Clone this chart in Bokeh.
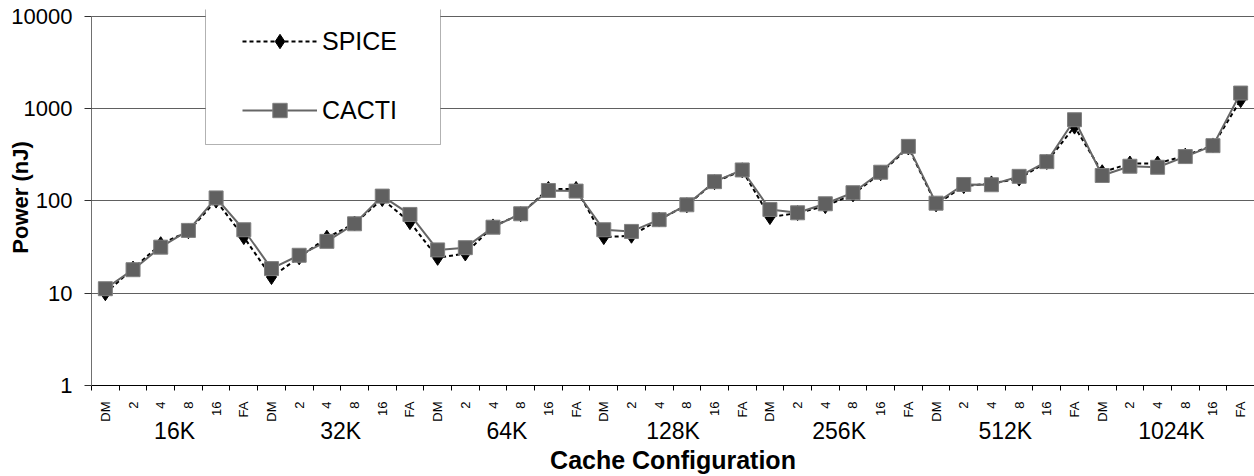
from bokeh.plotting import figure
from bokeh.models import (FixedTicker, LinearAxis, PrintfTickFormatter, Legend, LegendItem,
                          ColumnDataSource, Range1d, BoxAnnotation)
from bokeh.embed import file_html
from bokeh.resources import INLINE
import math

sizes = ["16K", "32K", "64K", "128K", "256K", "512K", "1024K"]
assoc = ["DM", "2", "4", "8", "16", "FA"]

cacti = [11.2, 18.0, 31.6, 48, 108, 48.8,
         18.5, 25.8, 36.5, 56.6, 113, 71.5,
         29.5, 31.2, 52, 72.7, 130, 128,
         48.8, 46.8, 62.7, 91, 162, 217,
         81, 74.5, 93.3, 123, 205, 391,
         94.7, 151, 150, 185, 267, 760,
         189, 238, 232, 303, 398, 1479]
spice = [10.0, 18.5, 34, 47, 101, 40.6,
         15.0, 24.5, 40, 57, 105, 59,
         24.2, 27, 53, 72, 135, 135,
         40.6, 42, 63, 90, 160, 215,
         67, 74, 88, 118, 200, 380,
         92, 145, 155, 175, 265, 640,
         205, 255, 255, 310, 400, 1240]
y_ticks = [1, 10, 100, 1000, 10000]

n = len(sizes) * len(assoc)
xs = [i + 0.5 for i in range(n)]
cat_labels = [a for s in sizes for a in assoc]
src = ColumnDataSource(dict(x=xs, spice=spice, cacti=cacti))

FONT = "Liberation Sans"

# frame: x 91..1254, y 9..386 ; decades of 92.5 px, so top of range a bit above 10000
y_top = 10 ** (377 / 92.5)
p = figure(width=1254, height=476, y_axis_type="log", output_backend="svg",
           toolbar_location=None, x_range=Range1d(0, n), y_range=Range1d(1, y_top),
           min_border_left=91, min_border_right=0, min_border_top=9, min_border_bottom=90,
           x_axis_type=None)
p.outline_line_color = None
p.background_fill_color = "white"

# grid
p.ygrid.ticker = FixedTicker(ticks=y_ticks)
p.ygrid.grid_line_color = "#606060"
p.ygrid.grid_line_width = 1
p.xgrid.visible = False

# y axis
ya = p.yaxis[0]
ya.ticker = FixedTicker(ticks=y_ticks)
ya.formatter = PrintfTickFormatter(format="%d")
ya.bounds = (1, 10000)
ya.major_label_text_font = FONT
ya.major_label_text_font_size = "22px"
ya.major_label_text_color = "black"
ya.axis_line_color = "#707070"
ya.major_tick_line_color = "#303030"
ya.major_tick_out = 7
ya.major_tick_in = 0
ya.minor_tick_line_color = None
ya.major_label_standoff = 12
ya.axis_label = "Power (nJ)"
ya.axis_label_text_font = FONT
ya.axis_label_text_font_size = "22px"
ya.axis_label_text_font_style = "bold"
ya.axis_label_text_color = "black"
ya.axis_label_standoff = -25

# category axis
xa = LinearAxis(ticker=FixedTicker(ticks=xs, minor_ticks=list(range(n + 1))),
                major_label_overrides={x: l for x, l in zip(xs, cat_labels)})
xa.major_label_orientation = math.pi / 2
xa.major_label_text_font = FONT
xa.major_label_text_font_size = "13px"
xa.major_label_text_color = "black"
xa.major_tick_out = 0
xa.major_tick_in = 0
xa.minor_tick_out = 5
xa.minor_tick_in = 0
xa.minor_tick_line_color = "black"
xa.axis_line_color = "black"
xa.major_label_standoff = 11
p.add_layout(xa, "below")

# group axis
gx = [len(assoc) * (k + 0.5) for k in range(len(sizes))]
ga = LinearAxis(ticker=FixedTicker(ticks=gx),
                major_label_overrides={x: s for x, s in zip(gx, sizes)})
ga.major_label_text_font = FONT
ga.major_label_text_font_size = "23px"
ga.major_label_text_color = "black"
ga.axis_line_color = None
ga.major_tick_line_color = None
ga.minor_tick_line_color = None
ga.major_tick_out = 0
ga.major_label_standoff = -7
ga.axis_label = "Cache Configuration"
ga.axis_label_text_font = FONT
ga.axis_label_text_font_style = "bold"
ga.axis_label_text_font_size = "25px"
ga.axis_label_text_color = "black"
ga.axis_label_standoff = -1
p.add_layout(ga, "below")

# series
r1l = p.line("x", "spice", source=src, line_color="black", line_width=2, line_dash="4 3")
r1m = p.scatter("x", "spice", source=src, marker="diamond", size=15, fill_color="black",
                line_color="black")
r2l = p.line("x", "cacti", source=src, line_color="#666666", line_width=2)
r2m = p.scatter("x", "cacti", source=src, marker="square", size=14, fill_color="#606060",
                line_color="#808080", line_width=1)

# legend frame
p.add_layout(BoxAnnotation(left=114, right=349, top=377, bottom=241,
                           left_units="screen", right_units="screen",
                           top_units="screen", bottom_units="screen",
                           fill_color="white", fill_alpha=1,
                           line_color="black", line_width=1, level="annotation"))

leg = Legend(items=[LegendItem(label="SPICE", renderers=[r1l, r1m]),
                    LegendItem(label="CACTI", renderers=[r2l, r2m])],
             location=(151, 257), orientation="vertical")
leg.label_text_font = FONT
leg.label_text_font_size = "25px"
leg.label_text_color = "black"
leg.glyph_width = 75
leg.glyph_height = 36
leg.label_height = 36
leg.label_standoff = 5
leg.spacing = 33
leg.padding = 0
leg.margin = 0
leg.border_line_color = None
leg.background_fill_alpha = 0
p.add_layout(leg, "center")

open("out.html", "w").write(file_html(p, INLINE))
